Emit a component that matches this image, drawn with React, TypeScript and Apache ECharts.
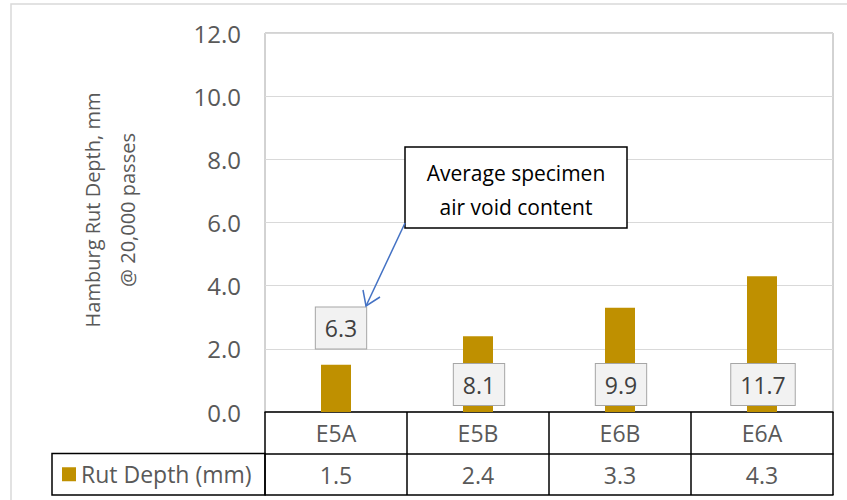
import React, { useEffect, useRef } from "react";
import * as echarts from "echarts";

const categories = ["E5A", "E5B", "E6B", "E6A"];
const rutDepth = [1.5, 2.4, 3.3, 4.3];
const airVoids = ["6.3", "8.1", "9.9", "11.7"];
const yTicks = [0, 2, 4, 6, 8, 10, 12];
const seriesName = "Rut Depth (mm)";
const calloutLines = ["Average specimen", "air void content"];

const W = 847;
const H = 500;
const GL = 265;
const GR = 833;
const GT = 33;
const GB = 412;
const ROW = 41.5;
const FONT = "'Open Sans', 'Noto Sans', sans-serif";
const GRAY = "#595959";

export default function App() {
  const ref = useRef<HTMLDivElement>(null);
  useEffect(() => {
    if (!ref.current) return;
    const chart = echarts.init(ref.current, undefined, { renderer: "svg" });
    const labelData = airVoids.map((v, i) => ({
      value: [i, i === 0 ? 2.66 : 0.87],
      name: v,
      label: { offset: i === 0 ? [5, 0] : [1, 0] },
    }));
    chart.setOption({
      animation: false,
      textStyle: { fontFamily: FONT },
      grid: {
        left: GL,
        right: W - GR,
        top: GT,
        bottom: H - GB,
        show: true,
        borderColor: "#a6a6a6",
        borderWidth: 1,
      },
      legend: {
        show: true,
        left: 62,
        top: GB + ROW * 1.5 - 13.5,
        padding: 0,
        itemWidth: 14,
        itemHeight: 14,
        icon: "rect",
        data: [seriesName],
        textStyle: { fontSize: 23, color: GRAY, fontFamily: FONT, lineHeight: 27 },
      },
      xAxis: [
        {
          type: "category",
          data: categories,
          position: "bottom",
          axisLine: { show: true, lineStyle: { color: "#000", width: 1.5 } },
          axisTick: { show: true, length: ROW * 2, interval: 0, lineStyle: { color: "#000", width: 1.5 } },
          axisLabel: { fontSize: 23, color: GRAY, margin: 7.5, lineHeight: 27, fontFamily: FONT },
        },
        {
          type: "category",
          data: rutDepth.map((v) => v.toFixed(1)),
          position: "bottom",
          offset: ROW,
          axisLine: { show: true, lineStyle: { color: "#000", width: 1.5 } },
          axisTick: { show: false },
          axisLabel: { fontSize: 23, color: GRAY, margin: 7.5, lineHeight: 27, fontFamily: FONT },
        },
        {
          type: "category",
          data: categories,
          position: "bottom",
          offset: ROW * 2,
          axisLine: { show: true, lineStyle: { color: "#000", width: 1.5 } },
          axisTick: { show: false },
          axisLabel: { show: false },
        },
      ],
      yAxis: {
        type: "value",
        min: yTicks[0],
        max: yTicks[yTicks.length - 1],
        interval: 2,
        axisLine: { show: false },
        axisTick: { show: false },
        splitLine: { lineStyle: { color: "#d9d9d9", width: 1 } },
        axisLabel: {
          fontSize: 24,
          color: GRAY,
          margin: 24,
          fontFamily: FONT,
          formatter: (v: number) => v.toFixed(1),
        },
        name: "Hamburg Rut Depth, mm\n@ 20,000 passes",
        nameLocation: "middle",
        nameRotate: 90,
        nameGap: 120,
        nameTextStyle: {
          fontSize: 20,
          color: GRAY,
          lineHeight: 35,
          fontFamily: FONT,
          padding: [0, 0, 0, 25],
        },
      },
      series: [
        {
          type: "bar",
          name: seriesName,
          data: rutDepth,
          barWidth: 30,
          itemStyle: { color: "#BF9000" },
          xAxisIndex: 0,
        },
        {
          type: "scatter",
          data: labelData,
          symbolSize: 0,
          xAxisIndex: 0,
          silent: true,
          z: 5,
          itemStyle: { opacity: 1 },
          label: {
            show: true,
            position: "inside",
            formatter: (p: any) => p.name,
            fontSize: 23,
            lineHeight: 27,
            color: "#404040",
            fontFamily: FONT,
            backgroundColor: "#f2f2f2",
            borderColor: "#a6a6a6",
            borderWidth: 1,
            padding: [7, 9],
          },
        },
      ],
      graphic: [
        {
          type: "rect",
          shape: { x: 11, y: 4, width: 900, height: 600 },
          style: { fill: "none", stroke: "#d9d9d9", lineWidth: 1.5 },
          silent: true,
          z: -10,
        },
        {
          type: "rect",
          shape: { x: 52, y: GB + ROW, width: GL - 52, height: ROW },
          style: { fill: "none", stroke: "#000", lineWidth: 1.5 },
          silent: true,
        },
        {
          type: "rect",
          shape: { x: 405, y: 147, width: 222, height: 81 },
          style: { fill: "#fff", stroke: "#000", lineWidth: 1.5 },
          z: 10,
        },
        {
          type: "text",
          x: 516,
          y: 173,
          z: 11,
          style: {
            text: calloutLines[0],
            fill: "#000",
            font: `21px ${FONT}`,
            textAlign: "center",
            textVerticalAlign: "middle",
          },
        },
        {
          type: "text",
          x: 516,
          y: 207,
          z: 11,
          style: {
            text: calloutLines[1],
            fill: "#000",
            font: `21px ${FONT}`,
            textAlign: "center",
            textVerticalAlign: "middle",
          },
        },
        {
          type: "line",
          shape: { x1: 405, y1: 223, x2: 366, y2: 306 },
          style: { stroke: "#4472C4", lineWidth: 1.5 },
          z: 10,
        },
        {
          type: "polyline",
          shape: { points: [[363, 290], [366, 306], [380, 297]] },
          style: { stroke: "#4472C4", lineWidth: 1.5, fill: "none" },
          z: 10,
        },
      ],
    });
    return () => chart.dispose();
  }, []);
  return (
    <div
      ref={ref}
      style={{ position: "fixed", left: 0, top: 0, width: W, height: H, background: "#fff" }}
    />
  );
}
